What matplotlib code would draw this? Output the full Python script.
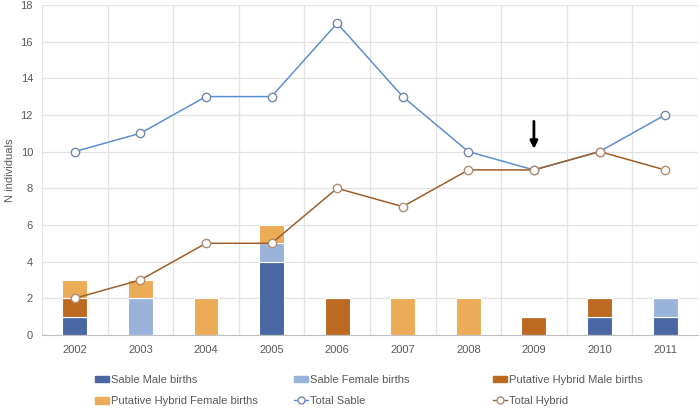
import numpy as np
import matplotlib.pyplot as plt
from matplotlib.lines import Line2D
from matplotlib.patches import Patch

plt.rcParams['font.family'] = ['Liberation Sans', 'DejaVu Sans']

years = ['2002', '2003', '2004', '2005', '2006', '2007', '2008', '2009', '2010', '2011']
sable_male = [1, 0, 0, 4, 0, 0, 0, 0, 1, 1]
sable_female = [0, 2, 0, 1, 0, 0, 0, 0, 0, 1]
hybrid_male = [1, 0, 0, 0, 2, 0, 0, 1, 1, 0]
hybrid_female = [1, 1, 2, 1, 0, 2, 2, 0, 0, 0]
total_sable = [10, 11, 13, 13, 17, 13, 10, 9, 10, 12]
total_hybrid = [2, 3, 5, 5, 8, 7, 9, 9, 10, 9]

c_sm = '#4A67A3'
c_sf = '#9AB3DA'
c_hm = '#BC6A22'
c_hf = '#EBAB57'
c_ls = '#5B8FD0'
c_lh = '#9E5F28'
txt = '#595959'

fig = plt.figure(figsize=(7, 4.09), dpi=100)
ax = fig.add_axes([0.06, 0.181, 0.937, 0.807])
x = np.arange(len(years))
w = 0.38

bottom = np.zeros(len(years))
for vals, col in [(sable_male, c_sm), (sable_female, c_sf), (hybrid_male, c_hm), (hybrid_female, c_hf)]:
    ax.bar(x, vals, w, bottom=bottom, color=col, edgecolor='white', linewidth=0.8, zorder=2)
    bottom += np.array(vals)

ax.plot(x, total_sable, color=c_ls, lw=1.1, marker='o', ms=6, mfc='white', mec='#7587AF', mew=1.0, zorder=3)
ax.plot(x, total_hybrid, color=c_lh, lw=1.1, marker='o', ms=6, mfc='white', mec='#B08C70', mew=1.0, zorder=3)

ax.annotate('', xy=(7, 10.0), xytext=(7, 11.8),
            arrowprops=dict(arrowstyle='-|>', color='black', lw=2.0, mutation_scale=11), zorder=4)

ax.set_xlim(-0.5, len(years) - 0.5)
ax.set_ylim(0, 18)
ax.set_yticks(range(0, 19, 2))
ax.set_xticks(x)
ax.set_xticklabels(years)
ax.set_xticks(np.arange(-0.5, len(years), 1), minor=True)
ax.grid(which='minor', axis='x', color='#E3E3E3', lw=0.9, zorder=0)
ax.grid(which='major', axis='y', color='#E3E3E3', lw=0.9, zorder=0)
ax.tick_params(which='both', length=0, labelsize=8, colors=txt)
ax.tick_params(axis='y', pad=6.5)
ax.tick_params(axis='x', pad=7)
for s in ['top', 'right', 'left']:
    ax.spines[s].set_visible(False)
ax.spines['bottom'].set_color('#BFBFBF')
ax.set_ylabel('N individuals', fontsize=8, color=txt, labelpad=4)

cols = [
    [Patch(color=c_sm, label='Sable Male births'),
     Patch(color=c_hf, label='Putative Hybrid Female births')],
    [Patch(color=c_sf, label='Sable Female births'),
     Line2D([], [], color=c_ls, lw=1, marker='o', mfc='white', mec='#7587AF', ms=5, label='Total Sable')],
    [Patch(color=c_hm, label='Putative Hybrid Male births'),
     Line2D([], [], color=c_lh, lw=1, marker='o', mfc='white', mec='#B08C70', ms=5, label='Total Hybrid')],
]
for xpix, hs in zip([95, 294, 493], cols):
    leg = fig.legend(handles=hs, loc='upper left', bbox_to_anchor=(xpix / 700, 1 - 375 / 409),
                     frameon=False, fontsize=8, handlelength=1.25, handleheight=0.55,
                     handletextpad=0.15, labelspacing=1.0, borderpad=0, borderaxespad=0,
                     labelcolor=txt)

fig.savefig('out.png', dpi=100)
